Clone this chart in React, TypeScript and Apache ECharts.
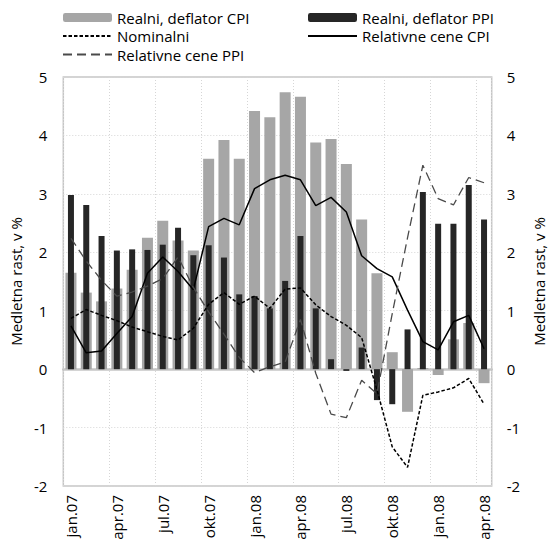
import React, { useEffect, useRef } from "react";
import * as echarts from "echarts";

const categories = [
  "jan.07", "feb.07", "mar.07", "apr.07", "maj.07", "jun.07", "jul.07", "avg.07", "sep.07", "okt.07", "nov.07", "dec.07",
  "jan.08", "feb.08", "mar.08", "apr.08", "maj.08", "jun.08", "jul.08", "avg.08", "sep.08", "okt.08", "nov.08", "dec.08",
  "jan.09", "feb.09", "mar.09", "apr.09",
];
// tick labels shown every 3rd month (as printed on the original)
const tickLabels = ["jan.07", "apr.07", "jul.07", "okt.07", "jan.08", "apr.08", "jul.08", "okt.08", "jan.08", "apr.08"];

const realCPI = [1.65, 1.31, 1.16, 1.38, 1.70, 2.25, 2.54, 2.20, 2.03, 3.60, 3.92, 3.60, 4.42, 4.31, 4.74, 4.66, 3.88, 3.94, 3.51, 2.56, 1.64, 0.29, -0.73, 0.02, -0.10, 0.51, 0.79, -0.24];
const realPPI = [2.98, 2.81, 2.28, 2.03, 2.05, 2.04, 2.13, 2.42, 1.95, 2.12, 1.91, 1.28, 1.25, 1.04, 1.51, 2.28, 1.04, 0.17, -0.03, 0.37, -0.53, -0.60, 0.68, 3.03, 2.49, 2.49, 3.15, 2.56];
const nominal = [0.87, 1.02, 0.92, 0.83, 0.72, 0.64, 0.56, 0.50, 0.70, 1.11, 1.31, 1.11, 1.25, 1.04, 1.37, 1.39, 1.10, 0.90, 0.75, 0.54, -0.35, -1.33, -1.68, -0.45, -0.39, -0.32, -0.16, -0.60];
const relCPI = [0.74, 0.28, 0.31, 0.61, 0.90, 1.64, 1.92, 1.67, 1.36, 2.44, 2.58, 2.47, 3.09, 3.24, 3.32, 3.24, 2.80, 2.94, 2.69, 1.94, 1.72, 1.58, 1.01, 0.47, 0.33, 0.81, 0.92, 0.35];
const relPPI = [2.24, 1.85, 1.52, 1.25, 1.32, 1.42, 1.55, 1.92, 1.40, 0.98, 0.60, 0.20, -0.06, 0.04, 0.12, 0.85, -0.07, -0.77, -0.83, -0.19, -0.42, 0.95, 2.25, 3.49, 2.92, 2.81, 3.28, 3.19];

const FONT = "Open Sans";
const FS = 15;

export default function App() {
  const ref = useRef<HTMLDivElement>(null);
  useEffect(() => {
    if (!ref.current) return;
    const chart = echarts.init(ref.current, null, { renderer: "svg" });
    const axisName = "Medletna rast, v %";
    const hideSym = { opacity: 0 };
    const legendText = { fontFamily: FONT, fontSize: FS, color: "#000" };
    const option: any = {
      animation: false,
      textStyle: { fontFamily: FONT, color: "#000" },
      legend: [
        {
          left: 62, top: 10, orient: "vertical", padding: 0, itemGap: 3.5,
          itemWidth: 49, itemHeight: 9, textStyle: legendText,
          data: [
            { name: "Realni, deflator CPI" },
            { name: "Nominalni", itemStyle: hideSym },
            { name: "Relativne cene PPI", itemStyle: hideSym },
          ],
        },
        {
          left: 307, top: 10, orient: "vertical", padding: 0, itemGap: 3.5,
          itemWidth: 49, itemHeight: 9, textStyle: legendText,
          data: [
            { name: "Realni, deflator PPI" },
            { name: "Relativne cene CPI", itemStyle: hideSym },
          ],
        },
      ],
      grid: { left: 58, right: 44, top: 77, bottom: 61, show: true, borderColor: "#c6c6c6", borderWidth: 1.5 },
      xAxis: [
        {
          type: "category", data: categories, boundaryGap: true,
          axisLine: { show: false, onZero: false },
          axisTick: { show: false },
          splitLine: { show: true, interval: 2, lineStyle: { color: "#d6d6d6", type: [1, 2], width: 1 } },
          axisLabel: {
            interval: 2, rotate: 90, margin: 9, fontSize: FS, color: "#000", fontFamily: FONT,
            formatter: (_v: string, i: number) => tickLabels[Math.round(i / 3)] ?? "",
          },
        },
        {
          type: "category", data: categories, boundaryGap: true, position: "bottom",
          axisLine: { show: true, onZero: true, lineStyle: { color: "#c6c6c6", width: 2.5 } },
          axisTick: { show: false }, axisLabel: { show: false }, splitLine: { show: false },
        },
      ],
      yAxis: [
        {
          type: "value", min: -2, max: 5, interval: 1, position: "left",
          name: axisName, nameLocation: "middle", nameGap: 37, nameRotate: 90,
          nameTextStyle: { fontSize: FS, color: "#000", fontFamily: FONT },
          axisLine: { show: false }, axisTick: { show: false },
          axisLabel: { margin: 16, fontSize: FS, color: "#000", fontFamily: FONT },
          splitLine: { show: true, lineStyle: { color: "#d6d6d6", type: [1, 2], width: 1 } },
        },
        {
          type: "value", min: -2, max: 5, interval: 1, position: "right",
          name: axisName, nameLocation: "middle", nameGap: 31, nameRotate: 90,
          nameTextStyle: { fontSize: FS, color: "#000", fontFamily: FONT },
          axisLine: { show: false }, axisTick: { show: false },
          axisLabel: { margin: 15, fontSize: FS, color: "#000", fontFamily: FONT },
          splitLine: { show: false },
        },
      ],
      series: [
        {
          name: "Realni, deflator CPI", type: "bar", xAxisIndex: 0, yAxisIndex: 0,
          data: realCPI, barWidth: 11, itemStyle: { color: "#a6a6a6" },
        },
        {
          name: "Realni, deflator PPI", type: "bar", xAxisIndex: 1, yAxisIndex: 0,
          data: realPPI, barWidth: 6, itemStyle: { color: "#262626" },
        },
        {
          name: "Nominalni", type: "line", xAxisIndex: 0, yAxisIndex: 0, data: nominal,
          symbol: "none", lineStyle: { color: "#000", width: 1.5, type: [3.5, 2] }, itemStyle: { color: "#000" },
        },
        {
          name: "Relativne cene CPI", type: "line", xAxisIndex: 0, yAxisIndex: 0, data: relCPI,
          symbol: "none", lineStyle: { color: "#000", width: 1.5, type: "solid" }, itemStyle: { color: "#000" },
        },
        {
          name: "Relativne cene PPI", type: "line", xAxisIndex: 0, yAxisIndex: 0, data: relPPI,
          symbol: "none", lineStyle: { color: "#4a4a4a", width: 1.3, type: [9, 5] }, itemStyle: { color: "#4a4a4a" },
        },
      ],
    };
    chart.setOption(option);
    return () => chart.dispose();
  }, []);
  return <div ref={ref} style={{ position: "fixed", left: 0, top: 0, width: 554, height: 547, background: "#fff" }} />;
}
